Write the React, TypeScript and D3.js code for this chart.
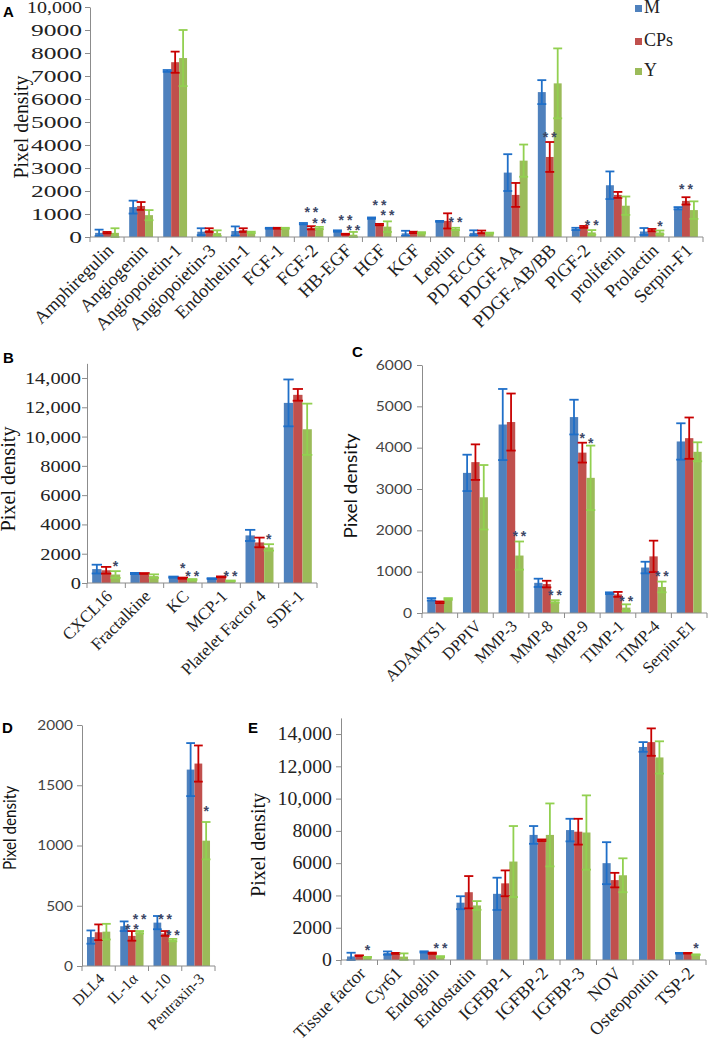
import { useEffect, useRef } from 'react';
import * as d3 from 'd3';

const seriesNames = ['M', 'CPs', 'Y'];
const barColors = ['#4F81BD', '#C0504D', '#9BBB59'];
const errColors = ['#1F6FC8', '#C80000', '#92D050'];

// Panel A - growth factors
const catsA = ['Amphiregulin', 'Angiogenin', 'Angiopoietin-1', 'Angiopoietin-3', 'Endothelin-1', 'FGF-1', 'FGF-2', 'HB-EGF', 'HGF', 'KGF', 'Leptin', 'PD-ECGF', 'PDGF-AA', 'PDGF-AB/BB', 'PlGF-2', 'proliferin', 'Prolactin', 'Serpin-F1'];
const mA = [180, 1300, 7220, 230, 260, 380, 580, 260, 820, 160, 680, 180, 2800, 6300, 350, 2250, 240, 1250];
const mAErr = [140, 280, 40, 150, 200, 20, 30, 30, 30, 110, 20, 110, 800, 520, 50, 600, 150, 50];
const cpA = [190, 1350, 7600, 300, 300, 380, 400, 120, 540, 200, 700, 220, 1830, 3480, 440, 1830, 300, 1570];
const cpAErr = [30, 170, 460, 80, 80, 20, 70, 20, 30, 30, 330, 60, 520, 650, 40, 130, 50, 160];
const yA = [180, 950, 7780, 170, 200, 380, 390, 100, 450, 180, 350, 170, 3320, 6680, 200, 1360, 200, 1170];
const yAErr = [200, 220, 1220, 120, 30, 20, 50, 120, 230, 30, 50, 20, 700, 1520, 100, 400, 80, 380];
const starsA: [string, number, number, string][] = [
  ['FGF-2', 1, 1210, '**'], ['FGF-2', 2, 740, '**'],
  ['HB-EGF', 1, 870, '**'], ['HB-EGF', 2, 430, '**'],
  ['HGF', 1, 1515, '**'], ['HGF', 2, 1080, '**'],
  ['Leptin', 2, 780, '**'], ['PDGF-AB/BB', 1, 4500, '**'],
  ['PlGF-2', 2, 650, '**'], ['Prolactin', 2, 600, '*'], ['Serpin-F1', 1, 2210, '**'],
];

// Panel B - chemokines
const catsB = ['CXCL16', 'Fractalkine', 'KC', 'MCP-1', 'Platelet Factor 4', 'SDF-1'];
const mB = [950, 650, 400, 300, 3250, 12300];
const mBErr = [300, 40, 40, 30, 380, 1600];
const cpB = [870, 650, 330, 420, 2770, 12850];
const cpBErr = [230, 30, 40, 30, 330, 400];
const yB = [580, 470, 230, 140, 2430, 10500];
const yBErr = [230, 120, 40, 30, 220, 1750];
const starsB: [string, number, number, string][] = [
  ['CXCL16', 2, 1370, '*'], ['KC', 1, 1230, '*'], ['KC', 2, 680, '**'],
  ['MCP-1', 2, 680, '**'], ['Platelet Factor 4', 2, 3210, '*'],
];

// Panel C - proteases
const catsC = ['ADAMTS1', 'DPPIV', 'MMP-3', 'MMP-8', 'MMP-9', 'TIMP-1', 'TIMP-4', 'Serpin-E1'];
const mC = [330, 3390, 4560, 730, 4740, 480, 1100, 4150];
const mCErr = [30, 440, 860, 100, 420, 20, 140, 440];
const cpC = [260, 3650, 4620, 700, 3880, 450, 1370, 4230];
const cpCErr = [20, 430, 690, 80, 240, 60, 380, 500];
const yC = [340, 2800, 1390, 280, 3270, 130, 630, 3900];
const yCErr = [20, 780, 340, 30, 780, 80, 130, 230];
const starsC: [string, number, number, string][] = [
  ['MMP-3', 2, 1935, '**'], ['MMP-8', 2, 510, '**'], ['MMP-9', 1, 4300, '*'],
  ['MMP-9', 2, 4190, '*'], ['TIMP-1', 2, 360, '**'], ['TIMP-4', 2, 970, '**'],
];

// Panel D - cytokines
const catsD = ['DLL4', 'IL-1α', 'IL-10', 'Pentraxin-3'];
const mD = [240, 330, 360, 1630];
const mDErr = [55, 40, 55, 220];
const cpD = [280, 250, 270, 1680];
const cpDErr = [65, 40, 20, 150];
const yD = [285, 280, 215, 1040];
const yDErr = [65, 10, 10, 155];
const starsD: [string, number, number, string][] = [
  ['IL-1α', 2, 415, '**'], ['IL-1α', 1, 332, '**'], ['IL-10', 1, 415, '**'],
  ['IL-10', 2, 282, '**'], ['Pentraxin-3', 2, 1310, '*'],
];

// Panel E - others
const catsE = ['Tissue factor', 'Cyr61', 'Endoglin', 'Endostatin', 'IGFBP-1', 'IGFBP-2', 'IGFBP-3', 'NOV', 'Osteopontin', 'TSP-2'];
const mE = [220, 430, 500, 3550, 4100, 7750, 8050, 6000, 13200, 420];
const mEErr = [230, 100, 40, 400, 1000, 550, 700, 1300, 300, 20];
const cpE = [270, 410, 420, 4200, 4750, 7420, 7950, 4950, 13500, 420];
const cpEErr = [20, 30, 40, 1000, 800, 50, 800, 450, 850, 20];
const yE = [170, 210, 210, 3380, 6100, 7750, 7900, 5250, 12550, 330];
const yEErr = [20, 200, 30, 270, 2200, 1950, 2300, 1050, 1000, 20];
const starsE: [string, number, number, string][] = [
  ['Tissue factor', 2, 805, '*'], ['Endoglin', 2, 930, '**'], ['TSP-2', 2, 930, '*'],
];

const SERIF = "'Liberation Serif', 'Times New Roman', serif";
const SANS = "Lato, 'Liberation Sans', sans-serif";

const fmt = (d: number) => (d >= 10000 ? d3.format(',')(d) : String(d));

function drawPanel(svg: any, p: any) {
  const g = svg.append('g');
  const x = d3.scaleBand<string>().domain(p.cats).range([p.x0, p.x1])
    .paddingInner(p.pad).paddingOuter(p.pad / 2);
  const xs = d3.scaleBand<number>().domain([0, 1, 2]).range([0, x.bandwidth()]);
  const y = d3.scaleLinear().domain([0, p.yMax]).range([p.y0, p.yTop]);

  // bars
  p.series.forEach((s: any, si: number) => {
    g.selectAll(null).data(s.vals).join('rect')
      .attr('x', (_d: number, i: number) => x(p.cats[i])! + xs(si)!)
      .attr('y', (d: number) => y(d))
      .attr('width', xs.bandwidth())
      .attr('height', (d: number) => p.y0 - y(d))
      .attr('fill', barColors[si]);
  });

  // error bars (both directions, capped)
  const capHalf = xs.bandwidth() / 2 + 0.5;
  p.series.forEach((s: any, si: number) => {
    s.vals.forEach((v: number, i: number) => {
      const cx = x(p.cats[i])! + xs(si)! + xs.bandwidth() / 2;
      const lo = y(Math.max(0, v - s.errs[i]));
      const hi = y(v + s.errs[i]);
      const eg = g.append('g').attr('stroke', errColors[si]).attr('stroke-width', 1.8);
      eg.append('line').attr('x1', cx).attr('x2', cx).attr('y1', lo).attr('y2', hi);
      eg.append('line').attr('x1', cx - capHalf).attr('x2', cx + capHalf).attr('y1', hi).attr('y2', hi);
      eg.append('line').attr('x1', cx - capHalf).attr('x2', cx + capHalf).attr('y1', lo).attr('y2', lo);
    });
  });

  // y axis
  const yAxis = g.append('g')
    .attr('transform', `translate(${p.x0},0)`)
    .call(d3.axisLeft(y)
      .tickValues(d3.range(0, p.yMax + 1, p.step))
      .tickSize(5)
      .tickSizeOuter(0)
      .tickPadding(p.gap - 5)
      .tickFormat((d: any) => fmt(+d)));
  yAxis.select('.domain').attr('stroke', '#8c8c8c');
  yAxis.selectAll('.tick line').attr('stroke', '#8c8c8c');
  yAxis.selectAll('text')
    .attr('font-family', p.tickFont)
    .attr('font-size', p.tickSize)
    .attr('fill', p.tickColor)
    .each(function (this: any) {
      const w = this.getComputedTextLength();
      this.setAttribute('textLength', Math.min(w * p.tickSx, p.tickMax));
      this.setAttribute('lengthAdjust', 'spacingAndGlyphs');
    });

  // x axis
  g.append('line').attr('x1', p.x0).attr('x2', p.x1).attr('y1', p.y0).attr('y2', p.y0)
    .attr('stroke', '#8c8c8c');
  g.selectAll(null).data(d3.range(p.cats.length + 1)).join('line')
    .attr('x1', (i: number) => p.x0 + i * x.step())
    .attr('x2', (i: number) => p.x0 + i * x.step())
    .attr('y1', p.y0).attr('y2', p.y0 + 5)
    .attr('stroke', '#8c8c8c');

  // category labels
  g.selectAll(null).data(p.cats).join('text')
    .attr('transform', (c: string) => `translate(${x(c)! + x.bandwidth() / 2 + 3},${p.y0 + 10}) rotate(-45)`)
    .attr('text-anchor', 'end')
    .attr('dy', '0.35em')
    .attr('font-family', SERIF)
    .attr('font-size', p.catSize)
    .attr('fill', '#222')
    .text((c: string) => c);

  // axis title
  g.append('text')
    .attr('transform', `translate(${p.titleX},${p.titleY}) rotate(-90)`)
    .attr('text-anchor', 'middle')
    .attr('font-family', p.titleFont)
    .attr('font-size', p.titleSize)
    .attr('textLength', p.titleLen)
    .attr('lengthAdjust', 'spacingAndGlyphs')
    .attr('fill', '#111')
    .text('Pixel density');

  // significance marks
  g.selectAll(null).data(p.stars).join('text')
    .attr('x', (s: any) => x(s[0])! + xs(s[1])! + xs.bandwidth() / 2 + 1.5)
    .attr('y', (s: any) => y(s[2]) + 8)
    .attr('text-anchor', 'middle')
    .attr('font-family', "'Liberation Sans', Arial, sans-serif")
    .attr('font-weight', 'bold')
    .attr('font-size', 14)
    .attr('letter-spacing', 3)
    .attr('fill', '#3d4766')
    .text((s: any) => s[3]);

  // panel letter
  g.append('text')
    .attr('x', p.letterX).attr('y', p.letterY)
    .attr('font-family', "'Liberation Sans', Arial, sans-serif")
    .attr('font-weight', 'bold')
    .attr('font-size', 15)
    .attr('fill', '#000')
    .text(p.letter);
}

const App = () => {
  const ref = useRef<SVGSVGElement>(null);

  useEffect(() => {
    if (!ref.current) return;
    const svg = d3.select(ref.current);
    svg.selectAll('*').remove();

    const mk = (a: number[], ae: number[], b: number[], be: number[], c: number[], ce: number[]) => [
      { vals: a, errs: ae }, { vals: b, errs: be }, { vals: c, errs: ce },
    ];

    drawPanel(svg, {
      letter: 'A', letterX: 3, letterY: 17,
      cats: catsA, series: mk(mA, mAErr, cpA, cpAErr, yA, yAErr), stars: starsA,
      x0: 90, x1: 703, y0: 237, yTop: 7, yMax: 10000, step: 1000, pad: 0.3,
      tickFont: SERIF, tickSize: 17, tickSx: 1.5, tickMax: 55, gap: 8, tickColor: '#222',
      catSize: 18.5, titleFont: SERIF, titleSize: 20, titleLen: 103, titleX: 28, titleY: 127,
    });
    drawPanel(svg, {
      letter: 'B', letterX: 3, letterY: 363,
      cats: catsB, series: mk(mB, mBErr, cpB, cpBErr, yB, yBErr), stars: starsB,
      x0: 87, x1: 317, y0: 583, yTop: 583 - 15000 * 0.014643, yMax: 15000, step: 2000, pad: 0.27,
      tickFont: SERIF, tickSize: 17, tickSx: 1.2, tickMax: 60, gap: 6, tickColor: '#222',
      catSize: 17, titleFont: SERIF, titleSize: 20, titleLen: 105, titleX: 15, titleY: 479,
    });
    drawPanel(svg, {
      letter: 'C', letterX: 352, letterY: 357,
      cats: catsC, series: mk(mC, mCErr, cpC, cpCErr, yC, yCErr), stars: starsC,
      x0: 422, x1: 707, y0: 613, yTop: 365, yMax: 6000, step: 1000, pad: 0.3,
      tickFont: SANS, tickSize: 13, tickSx: 1.2, tickMax: 40, gap: 10, tickColor: '#444',
      catSize: 16.5, titleFont: SANS, titleSize: 18, titleLen: 105, titleX: 357, titleY: 486,
    });
    drawPanel(svg, {
      letter: 'D', letterX: 2, letterY: 733,
      cats: catsD, series: mk(mD, mDErr, cpD, cpDErr, yD, yDErr), stars: starsD,
      x0: 82, x1: 215, y0: 966, yTop: 725, yMax: 2000, step: 500, pad: 0.3,
      tickFont: SANS, tickSize: 14, tickSx: 1.1, tickMax: 40, gap: 9, tickColor: '#444',
      catSize: 15.5, titleFont: SANS, titleSize: 18, titleLen: 84, titleX: 16, titleY: 828,
    });
    drawPanel(svg, {
      letter: 'E', letterX: 248, letterY: 733,
      cats: catsE, series: mk(mE, mEErr, cpE, cpEErr, yE, yEErr), stars: starsE,
      x0: 341, x1: 706, y0: 960, yTop: 960 - 15000 * 0.01614, yMax: 15000, step: 2000, pad: 0.33,
      tickFont: SERIF, tickSize: 18, tickSx: 1.1, tickMax: 58, gap: 9, tickColor: '#222',
      catSize: 18, titleFont: SERIF, titleSize: 20, titleLen: 104, titleX: 265, titleY: 845,
    });

    // legend
    const lg = svg.append('g');
    seriesNames.forEach((name, i) => {
      const ly = [13, 46, 76][i];
      lg.append('rect').attr('x', 635).attr('y', ly - 8).attr('width', 7).attr('height', 7)
        .attr('fill', barColors[i]);
      lg.append('text').attr('x', 644).attr('y', ly)
        .attr('font-family', SERIF).attr('font-size', 18).attr('fill', '#222')
        .text(name);
    });
  }, []);

  return (
    <svg
      ref={ref}
      width={709}
      height={1044}
      style={{ position: 'absolute', left: 0, top: 0, background: '#fff' }}
    />
  );
};

export default App;
